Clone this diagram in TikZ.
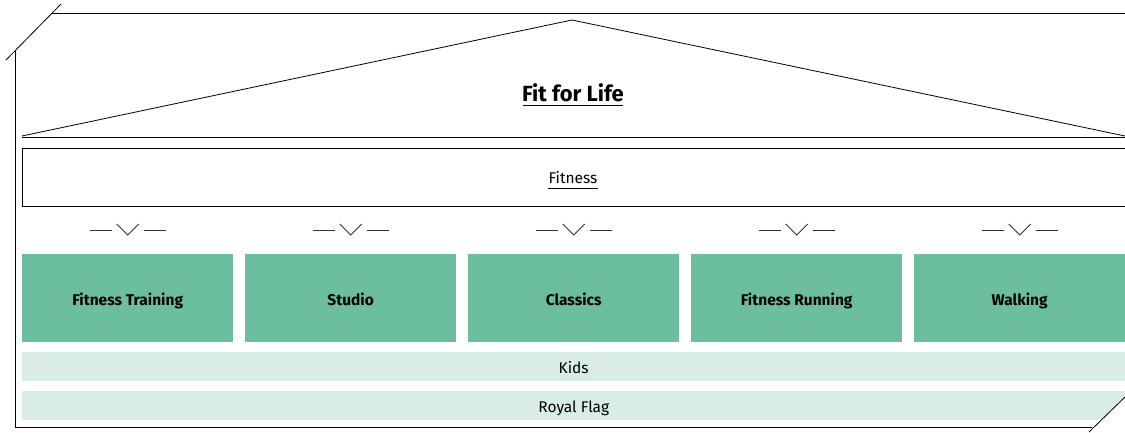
\documentclass[tikz,border=0pt]{standalone}
\usepackage{fontspec}
\setmainfont{Fira Sans}
\usetikzlibrary{calc}
\begin{document}
\begin{tikzpicture}[x=1pt,y=-1pt,
  outline/.style={draw=black,line width=0.8pt},
  pillar/.style={fill=pillarcol,draw=none,minimum width=211pt,minimum height=88pt,anchor=north west,inner sep=0pt},
  band/.style={fill=bandcol,draw=none,minimum width=1103pt,minimum height=29pt,anchor=north west,inner sep=0pt},
  label/.style={font=\fontsize{15.5}{18}\selectfont,anchor=base,inner sep=0pt},
  boldlabel/.style={font=\fontsize{15.5}{18}\selectfont\bfseries,anchor=base,inner sep=0pt},
  chevron/.style={draw=black!80,line width=0.8pt}]
\definecolor{pillarcol}{HTML}{6BBF9F}
\definecolor{bandcol}{HTML}{D9EDE5}
\useasboundingbox (0,0) rectangle (1125,432);
% roof
\draw[outline] (22,136) -- (572,20) -- (1125,136);
\draw[outline] (22,137) -- (1125,137);
\node[font=\fontsize{22}{26}\selectfont\bfseries,anchor=base,inner sep=0pt] (title) at (573,101) {Fit for Life};
\draw[line width=1pt] ($(title.base west)+(1,4)$) -- ($(title.base east)+(-1,4)$);
% fitness beam
\node[outline,minimum width=1103pt,minimum height=58pt,anchor=north west,inner sep=0pt] (beam) at (22,148) {};
\node[label] (fit) at (573,183) {Fitness};
\draw[line width=0.5pt] ($(fit.base west)+(0,5)$) -- ($(fit.base east)+(0,5)$);
% pillars with chevrons above
\foreach \x/\n/\t in {22/p1/Fitness Training,245/p2/Studio,468/p3/Classics,691/p4/Fitness Running,914/p5/Walking}{
  \node[pillar] (\n) at (\x,254) {};
  \node[boldlabel] at ($(\n.north)+(0,51)$) {\t};
  \coordinate (c\n) at ($(\n.north)+(0,-24)$);
  \draw[chevron] ($(c\n)+(-38,0)$) -- ($(c\n)+(-16,0)$);
  \draw[chevron] ($(c\n)+(16,0)$) -- ($(c\n)+(38,0)$);
  \draw[chevron] ($(c\n)+(-11,-6)$) -- ($(c\n)+(0,5)$) -- ($(c\n)+(11,-6)$);
}
% bands
\node[band] (kids) at (22,352) {};
\node[label] at ($(kids.north)+(0,21)$) {Kids};
\node[band] (flag) at (22,391) {};
\node[label] at ($(flag.north)+(0,21)$) {Royal Flag};
% house outline with cut corners
\fill[white] (1089,432) -- (1125,397) -- (1125,432) -- cycle;
\draw[outline] (6,60) -- (61,4);
\draw[outline] (15,51) -- (15,427) -- (1092,427);
\draw[outline] (52,13) -- (1125,13);
\draw[outline] (1089,432) -- (1125,397);
\end{tikzpicture}
\end{document}
